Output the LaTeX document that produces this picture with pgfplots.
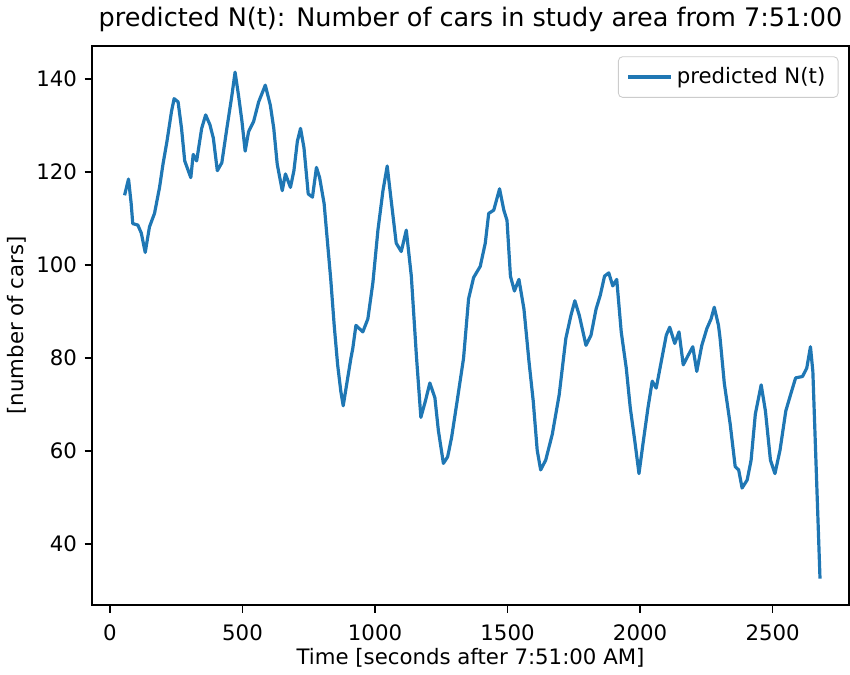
\documentclass[border=0pt]{standalone}
\usepackage{pgfplots}
\pgfplotsset{compat=1.18}
\usepackage{fontspec}
\setmainfont{DejaVu Sans}
\definecolor{mplblue}{HTML}{1F77B4}
\begin{document}
\begin{tikzpicture}
\begin{axis}[
  scale only axis,
  width=356pt, height=263pt,
  xmin=-68, xmax=2789, ymin=26.8, ymax=147.2,
  xtick={0,500,1000,1500,2000,2500},
  ytick={40,60,80,100,120,140},
  tick align=outside, tick pos=left,
  major tick length=3.5pt,
  every tick/.style={black, line width=0.8pt},
  axis line style={line width=0.8pt},
  /pgf/number format/assume math mode=true,
  /pgf/number format/1000 sep={},
  ticklabel style={font=\fontsize{10}{12}\selectfont},
  xticklabel shift=2pt,
  title={predicted N(t): Number of cars in study area from 7:51:00},
  title style={font=\fontsize{12}{14}\selectfont, yshift=-3pt},
  xlabel={Time [seconds after 7:51:00 AM]},
  ylabel={[number of cars]},
  label style={font=\fontsize{10}{12}\selectfont},
  xlabel style={yshift=3pt},
  ylabel style={yshift=-2pt},
  legend style={at={(1,1)}, anchor=north east, xshift=-5pt, yshift=-5pt,
    draw=black!20, rounded corners=2pt, font=\fontsize{10}{12}\selectfont,
    inner xsep=4pt, inner ysep=3pt},
  legend cell align=left,
  legend image code/.code={\draw[#1, line width=1.5pt] (0pt,0pt) -- (20pt,0pt);},
]
\addplot[mplblue, line width=1.5pt, line join=round] coordinates {
(55,115.0) (70,118.5) (80,113.2) (86,108.9) (105,108.6) (118,106.9) (133,102.7)
(149,108.2) (168,111.1) (187,116.7) (200,121.7) (215,126.6) (232,133.0) (242,135.8)
(257,135.1) (270,129.4) (282,122.4) (305,118.8) (314,123.8) (327,122.4) (346,129.4)
(361,132.3) (377,130.2) (390,127.3) (405,120.3) (422,122.0) (441,129.4) (460,136.5)
(472,141.5) (485,136.5) (498,130.9) (510,124.5) (523,128.7) (542,130.9) (561,135.1)
(586,138.7) (605,134.4) (618,129.4) (631,121.7) (650,116.0) (662,119.6) (681,116.7)
(694,120.3) (707,126.6) (719,129.4) (732,125.2) (748,115.3) (764,114.6) (779,121.0)
(791,118.8) (808,113.2) (821,104.7) (833,96.9) (846,87.0) (859,78.5) (871,72.8)
(880,69.7) (897,75.7) (909,79.9) (916,82.0) (928,87.0) (954,85.6) (973,88.4)
(992,96.2) (1011,107.5) (1030,116.0) (1046,121.3) (1061,113.9) (1080,104.7)
(1099,102.9) (1118,107.5) (1137,97.6) (1156,80.6) (1173,67.2) (1190,70.7)
(1207,74.6) (1226,71.4) (1239,64.4) (1258,57.3) (1274,58.7) (1289,62.9) (1308,70.0)
(1334,79.9) (1353,92.7) (1372,97.3) (1397,99.7) (1416,104.7) (1429,111.1)
(1448,111.8) (1470,116.4) (1486,111.8) (1498,109.6) (1511,97.6) (1526,94.4)
(1543,96.9) (1562,90.5) (1581,79.2) (1597,70.7) (1612,60.1) (1625,55.9) (1644,58.0)
(1669,63.6) (1695,72.1) (1720,84.2) (1739,89.1) (1754,92.3) (1771,89.1) (1796,82.7)
(1815,84.9) (1834,90.5) (1850,93.5) (1866,97.6) (1882,98.3) (1897,95.5) (1912,96.9)
(1929,85.6) (1948,77.8) (1963,69.3) (1980,62.2) (1996,55.1) (2011,61.5) (2030,69.3)
(2046,75.0) (2061,73.5) (2080,79.2) (2099,84.9) (2112,86.6) (2131,83.1) (2147,85.6)
(2163,78.5) (2182,80.6) (2199,82.4) (2214,77.1) (2233,82.7) (2252,86.3) (2268,88.4)
(2280,90.9) (2296,87.0) (2302,84.2) (2318,74.5) (2340,65.8) (2359,56.6) (2372,55.9)
(2385,52.0) (2404,53.7) (2419,58.0) (2435,67.9) (2457,74.2) (2473,68.6) (2492,58.0)
(2509,55.1) (2528,60.1) (2550,68.6) (2568,72.1) (2587,75.7) (2613,76.0) (2629,77.8)
(2643,82.4) (2652,77.1) (2679,32.5)
};
\addlegendentry{predicted N(t)}
\end{axis}
\end{tikzpicture}
\end{document}
